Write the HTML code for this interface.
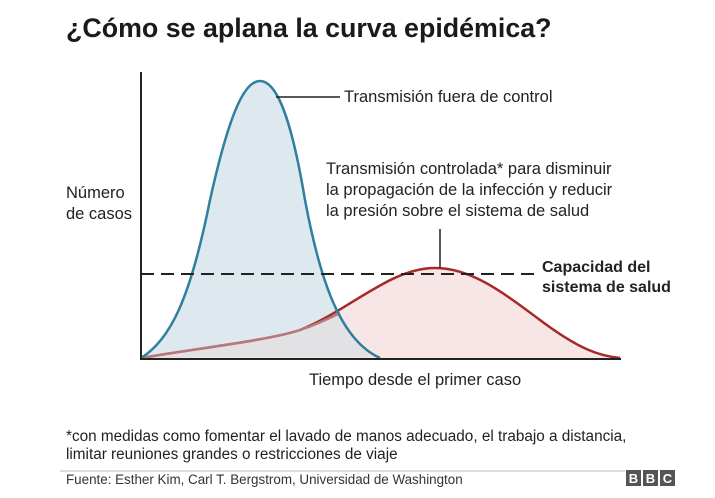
<!DOCTYPE html>
<html><head><meta charset="utf-8"><style>
body{margin:0;width:715px;height:498px;background:#fff;font-family:"Liberation Sans",sans-serif;color:#222;position:relative;overflow:hidden}
.t{position:absolute;white-space:nowrap}
</style></head><body>
<div class="t" style="left:66px;top:13px;font-size:26.8px;font-weight:bold;color:#1a1a1a">¿Cómo se aplana la curva epidémica?</div>
<svg width="715" height="498" style="position:absolute;left:0;top:0">
<path d="M141,358 C170,340 190,300 210,200 C230,110 245,81 260,81 C275,81 290,110 305,200 C320,280 340,340 380,358 Z" fill="#dde9ee"/>
<path d="M141,358 C200,348 270,340 300,330 C350,310 390,268 435,268 C470,268 500,290 540,320 C580,350 600,356 620,358 L141,358 Z" fill="#f7e1e1" fill-opacity="0.85"/>
<path d="M141,358 C200,348 270,340 300,330 C315,325 330,318 340,313 L355,340 L370,356 L141,358Z" fill="#e2e2e4"/>
<path d="M141,358 C200,348 270,340 300,330 C350,310 390,268 435,268 C470,268 500,290 540,320 C580,350 600,356 620,358" fill="none" stroke="#a52a2a" stroke-width="2.5"/>
<path d="M141,358 C200,348 270,340 300,330 C315,325 330,318 340,313" fill="none" stroke="#b77a7c" stroke-width="2.5"/>
<path d="M141,358 C170,340 190,300 210,200 C230,110 245,81 260,81 C275,81 290,110 305,200 C320,280 340,340 380,358" fill="none" stroke="#2f7f9e" stroke-width="2.5"/>
<line x1="141" y1="274" x2="541" y2="274" stroke="#222" stroke-width="2" stroke-dasharray="13,7"/>
<line x1="141" y1="72" x2="141" y2="359" stroke="#222" stroke-width="2"/>
<line x1="140" y1="359" x2="621" y2="359" stroke="#222" stroke-width="2"/>
<line x1="276" y1="97" x2="340" y2="97" stroke="#222" stroke-width="1.5"/>
<line x1="440" y1="229" x2="440" y2="268" stroke="#222" stroke-width="1.5"/>
<line x1="60" y1="471" x2="625" y2="471" stroke="#bbb" stroke-width="1"/>
<rect x="626" y="470" width="15" height="16" fill="#555"/><rect x="643" y="470" width="15" height="16" fill="#555"/><rect x="660" y="470" width="15" height="16" fill="#555"/>
<text x="633.5" y="483" fill="#fff" font-size="13" font-weight="bold" text-anchor="middle" font-family="Liberation Sans">B</text>
<text x="650.5" y="483" fill="#fff" font-size="13" font-weight="bold" text-anchor="middle" font-family="Liberation Sans">B</text>
<text x="667.5" y="483" fill="#fff" font-size="13" font-weight="bold" text-anchor="middle" font-family="Liberation Sans">C</text>
</svg>
<div class="t" style="left:344px;top:88px;font-size:16.5px">Transmisión fuera de control</div>
<div class="t" style="left:326px;top:159px;font-size:16.5px;line-height:21px">Transmisión controlada* para disminuir<br>la propagación de la infección y reducir<br>la presión sobre el sistema de salud</div>
<div class="t" style="left:66px;top:183px;font-size:16.5px;line-height:21px">Número<br>de casos</div>
<div class="t" style="left:542px;top:258px;font-size:16px;font-weight:bold;line-height:20px">Capacidad del<br>sistema de salud</div>
<div class="t" style="left:309px;top:371px;font-size:16.5px">Tiempo desde el primer caso</div>
<div class="t" style="left:66px;top:428px;font-size:15.3px;line-height:18px">*con medidas como fomentar el lavado de manos adecuado, el trabajo a distancia,<br>limitar reuniones grandes o restricciones de viaje</div>
<div class="t" style="left:66px;top:472px;font-size:13.4px;color:#333">Fuente: Esther Kim, Carl T. Bergstrom, Universidad de Washington</div>
</body></html>
